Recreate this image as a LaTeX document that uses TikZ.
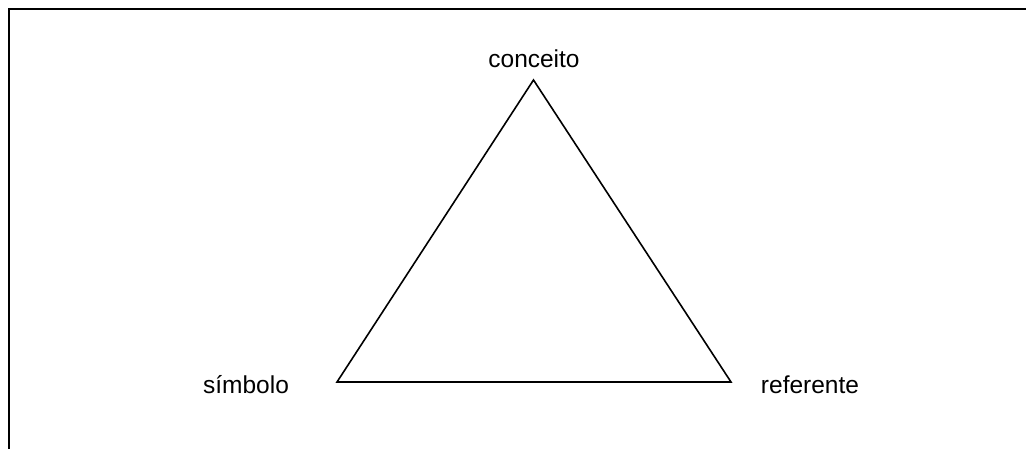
\documentclass[tikz,border=0pt]{standalone}
\usepackage{fontspec}
\setmainfont{Liberation Sans}
\begin{document}
\begin{tikzpicture}[x=1pt,y=-1pt,
  lbl/.style={font=\fontsize{24.5}{28}\selectfont, anchor=base, inner sep=0pt},
  edge/.style={line width=1.6pt, line join=miter},
  frame/.style={line width=2pt}]
\useasboundingbox (0,0) rectangle (1026,449);
\coordinate (fl) at (9,449);
\coordinate (fc) at (9,9);
\coordinate (fr) at (1026,9);
\draw[frame] (fl) -- (fc) -- (fr);
\coordinate (c) at (533.5,80);
\coordinate (s) at (337,382);
\coordinate (r) at (731,382);
\draw[edge] (c) -- (s) -- (r) -- cycle;
\node[lbl] (tc) at (534,68) {conceito};
\node[lbl] (ts) at (246,393) {símbolo};
\node[lbl] (tr) at (810,393) {referente};
\end{tikzpicture}
\end{document}
